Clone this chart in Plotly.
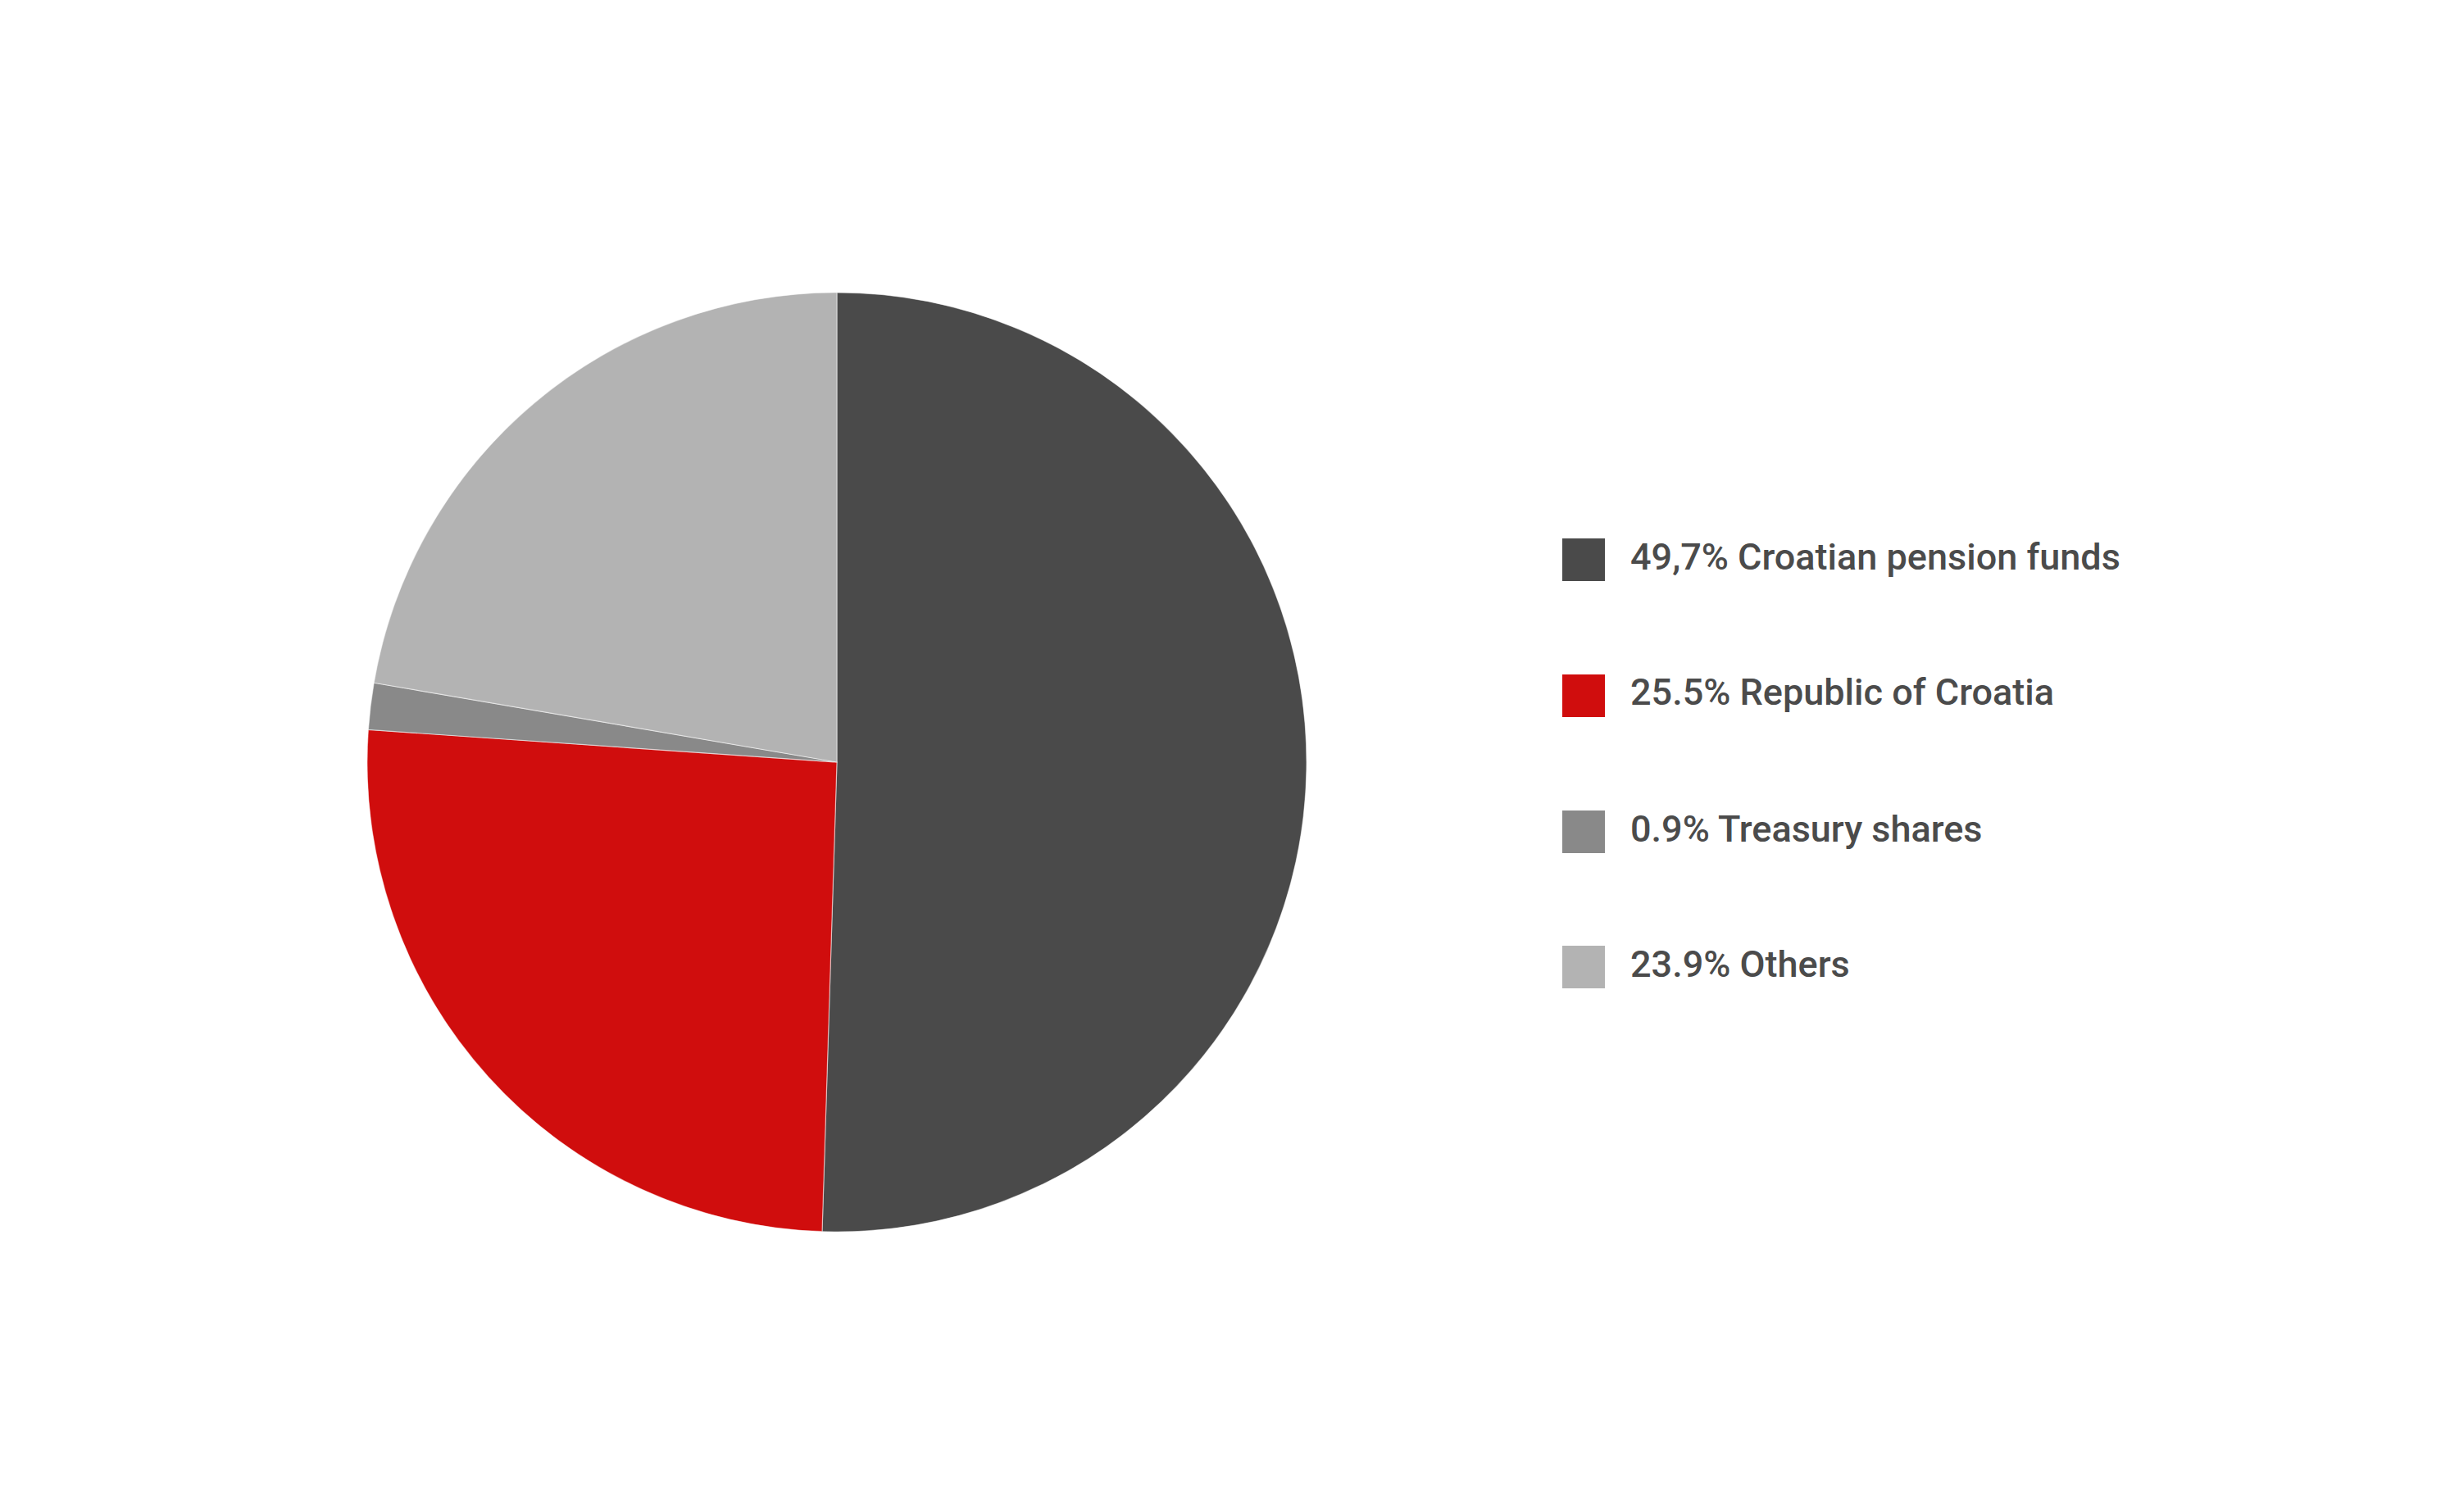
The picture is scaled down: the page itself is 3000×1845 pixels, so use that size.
import plotly.graph_objects as go

# Data (slice sizes; labels as printed in the legend)
categories = ["Croatian pension funds", "Republic of Croatia", "Treasury shares", "Others"]
legend_labels = ["49,7% Croatian pension funds", "25.5% Republic of Croatia",
                 "0.9% Treasury shares", "23.9% Others"]
values = [50.5, 25.6, 1.6, 22.3]
colors = ["#4a4a4a", "#d00d0d", "#898989", "#b3b3b3"]

W, H = 3000, 1845
cx, cy, r = 1013, 922, 573  # pixel centre / radius of the pie

fig = go.Figure(go.Pie(
    labels=categories,
    values=values,
    sort=False,
    direction="clockwise",
    rotation=0,
    textinfo="none",
    hoverinfo="label+percent",
    marker=dict(colors=colors, line=dict(color="rgba(255,255,255,0.5)", width=1.2)),
    domain=dict(x=[(cx - r) / W, (cx + r) / W],
                y=[(H - cy - r) / H, (H - cy + r) / H]),
    showlegend=False,
))

# Custom legend (large squares + labels)
sq_x0, sq_size = 1898, 52
row_y = [675, 841, 1007, 1172]
shapes, annotations = [], []
for lab, col, y in zip(legend_labels, colors, row_y):
    shapes.append(dict(type="rect", xref="paper", yref="paper",
                       x0=sq_x0 / W, x1=(sq_x0 + sq_size) / W,
                       y0=(H - y - sq_size / 2) / H, y1=(H - y + sq_size / 2) / H,
                       fillcolor=col, line=dict(width=0)))
    annotations.append(dict(xref="paper", yref="paper", x=1979 / W, y=(H - y + 4) / H,
                            xanchor="left", yanchor="middle", showarrow=False,
                            text=lab,
                            font=dict(family="Roboto", size=45, color="#4b4b4b",
                                      weight=500)))

fig.update_layout(
    width=W, height=H,
    margin=dict(l=0, r=0, t=0, b=0),
    paper_bgcolor="white", plot_bgcolor="white",
    shapes=shapes, annotations=annotations,
)

fig.write_html("out.html")
